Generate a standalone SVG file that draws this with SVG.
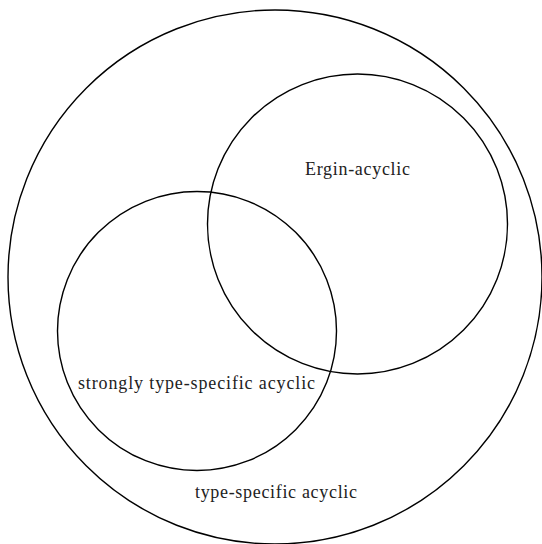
<svg xmlns="http://www.w3.org/2000/svg" width="542" height="544" viewBox="0 0 542 544">
<style>
.set{fill:none;stroke:#000;stroke-width:1.4}
.lbl{font-family:"Liberation Serif","Times New Roman",serif;font-size:18px;fill:#222;text-anchor:middle}
</style>
<rect width="542" height="544" fill="#fff"/>
<g id="type-specific">
<circle class="set" cx="275" cy="277" r="267"/>
<text class="lbl" x="276" y="498" textLength="162">type-specific acyclic</text>
</g>
<g id="ergin">
<circle class="set" cx="357.5" cy="224" r="150"/>
<text class="lbl" x="357.5" y="175" textLength="105">Ergin-acyclic</text>
</g>
<g id="strongly">
<circle class="set" cx="197" cy="331" r="139.5"/>
<text class="lbl" x="196.5" y="389" textLength="237">strongly type-specific acyclic</text>
</g>
<g id="connectors"></g>
</svg>
